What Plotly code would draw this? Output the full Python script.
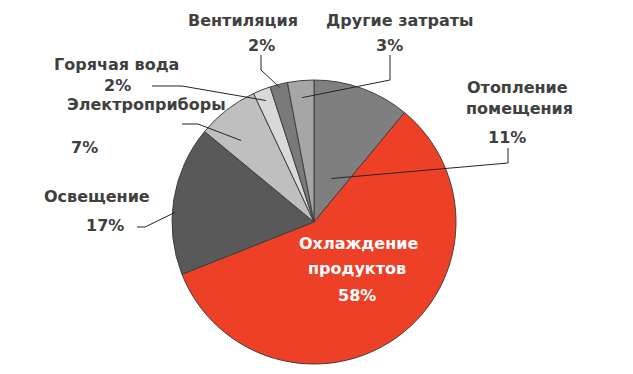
import math
import plotly.graph_objects as go

labels = ["Отопление помещения", "Охлаждение продуктов", "Освещение",
          "Электроприборы", "Горячая вода", "Вентиляция", "Другие затраты"]
values = [11, 58, 17, 7, 2, 2, 3]
colors = ["#7f7f7f", "#ee4027", "#595959", "#bfbfbf", "#d9d9d9", "#7a7a7a", "#a6a6a6"]

W, H = 633, 374
CX, CY, R = 314, 222, 142

fig = go.Figure()
fig.add_trace(go.Pie(
    labels=labels, values=values, sort=False, direction="clockwise", rotation=0,
    marker=dict(colors=colors, line=dict(color="#3f3f3f", width=1)),
    textinfo="none", hoverinfo="label+percent", showlegend=False,
    domain=dict(x=[(CX - R) / W, (CX + R) / W], y=[1 - (CY + R) / H, 1 - (CY - R) / H]),
))

# slice mid-angles from data (clockwise from 12 o'clock)
total = sum(values)
mids = []
acc = 0
for v in values:
    mids.append((acc + v / 2) / total * 360)
    acc += v

def pt(i, frac, dang=0.0):
    a = math.radians(mids[i] + dang)
    return CX + frac * R * math.sin(a), CY - frac * R * math.cos(a)

dark = "#404040"
font = dict(family="DejaVu Sans", size=16, color=dark, weight="bold")
wfont = dict(family="DejaVu Sans", size=16, color="white", weight="bold")

texts = [
    ("Отопление", 517, 87, font), ("помещения", 519, 108, font), ("11%", 507, 137, font),
    ("Охлаждение", 358, 243, wfont), ("продуктов", 357, 268, wfont), ("58%", 357, 295, wfont),
    ("Освещение", 97, 196, font), ("17%", 105, 225, font),
    ("Электроприборы", 146, 104, font), ("7%", 84, 147, font),
    ("Горячая вода", 116, 64, font), ("2%", 117, 85, font),
    ("Вентиляция", 243, 20, font), ("2%", 261, 45, font),
    ("Другие затраты", 399, 20, font), ("3%", 389, 45, font),
]
annotations = [dict(text=t, x=x, y=y, xref="x", yref="y", showarrow=False, font=f,
                    xanchor="center", yanchor="middle") for t, x, y, f in texts]

leaders = [
    (0, [(508, 148), (508, 163)], 0.33, 2),
    (2, [(137, 227), (145, 227)], 0.98, -5),
    (3, [(182, 124), (198, 124)], 0.77, -4),
    (4, [(152, 86), (182, 86)], 0.92, 0),
    (5, [(261, 55), (261, 70)], 0.98, 0),
    (6, [(390, 55), (390, 80)], 0.88, 0),
]
shapes = []
for i, pts, frac, dang in leaders:
    ex, ey = pt(i, frac, dang)
    allp = pts + [(ex, ey)]
    path = "M " + " L ".join(f"{x:.1f},{y:.1f}" for x, y in allp)
    shapes.append(dict(type="path", path=path, xref="x", yref="y",
                       line=dict(color="#262626", width=1)))

fig.update_layout(
    width=W, height=H, margin=dict(l=0, r=0, t=0, b=0),
    paper_bgcolor="white", plot_bgcolor="rgba(0,0,0,0)",
    xaxis=dict(range=[0, W], visible=False, fixedrange=True),
    yaxis=dict(range=[H, 0], visible=False, fixedrange=True),
    annotations=annotations, shapes=shapes,
)
fig.write_html("out.html", config={"displayModeBar": False},
               post_script="document.body.style.margin='0';document.body.style.overflow='hidden';")
